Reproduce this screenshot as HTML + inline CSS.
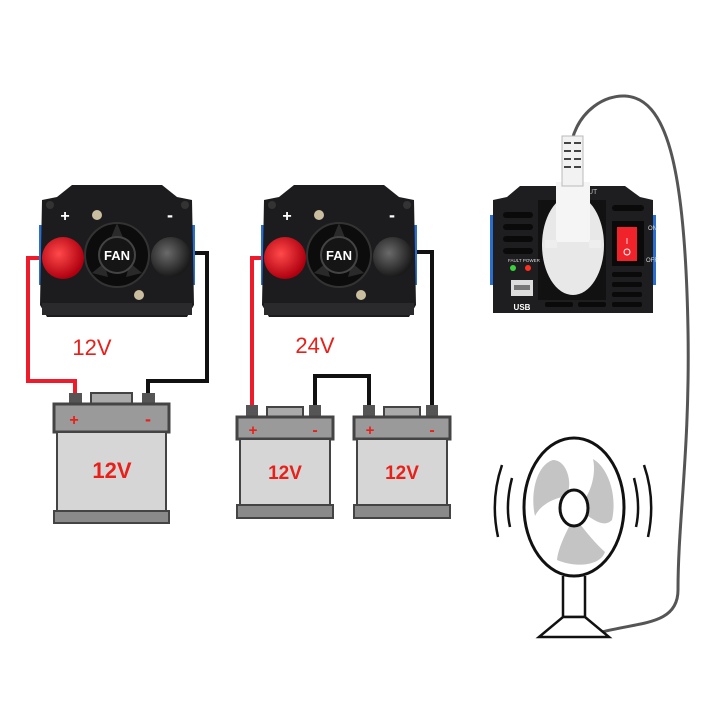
<!DOCTYPE html>
<html><head><meta charset="utf-8"><style>
html,body{margin:0;padding:0;background:#fff}
svg{display:block}
text{font-family:"Liberation Sans",sans-serif}
</style></head><body>
<svg width="720" height="720" viewBox="0 0 720 720" xmlns="http://www.w3.org/2000/svg">
<defs>
<radialGradient id="rk" cx="0.4" cy="0.4" r="0.6"><stop offset="0" stop-color="#ff4a4a"/><stop offset="1" stop-color="#b00010"/></radialGradient>
<radialGradient id="bk" cx="0.4" cy="0.4" r="0.6"><stop offset="0" stop-color="#6a6a6a"/><stop offset="1" stop-color="#1a1a1a"/></radialGradient>
<g id="inv">
  <rect x="-3" y="40" width="6" height="60" fill="#2a6fd0"/>
  <rect x="147" y="40" width="6" height="60" fill="#2a6fd0"/>
  <path d="M30,0 L120,0 L135,12 L150,15 L152,120 L145,132 L5,132 L-2,120 L0,15 L15,12 Z" fill="#1c1c1e"/>
  <rect x="0" y="118" width="150" height="12" fill="#2a2a2c"/>
  <circle cx="75" cy="70" r="32" fill="#0c0c0c" stroke="#333" stroke-width="2"/>
  <path d="M75,38 L82,55 L68,55Z M50,88 L62,78 L66,92Z M100,88 L88,78 L84,92Z" fill="#2a2a2a"/>
  <circle cx="75" cy="70" r="18" fill="#151515" stroke="#444" stroke-width="2"/>
  <text x="75" y="75" font-size="13" font-weight="bold" fill="#fff" text-anchor="middle">FAN</text>
  <circle cx="55" cy="30" r="5" fill="#c9bfa0"/>
  <circle cx="97" cy="110" r="5" fill="#c9bfa0"/>
  <text x="23" y="36" font-size="16" font-weight="bold" fill="#fff" text-anchor="middle">+</text>
  <text x="128" y="36" font-size="18" font-weight="bold" fill="#fff" text-anchor="middle">-</text>
  <circle cx="21" cy="73" r="21" fill="url(#rk)"/>
  <circle cx="129" cy="72" r="20" fill="url(#bk)"/>
  <circle cx="8" cy="20" r="4" fill="#333"/><circle cx="143" cy="20" r="4" fill="#333"/>
</g>
</defs>

<polyline points="44,258 28,258 28,381 75,381 75,396" fill="none" stroke="#ef1a2a" stroke-width="4"/>
<polyline points="188,253 207,253 207,381 148,381 148,396" fill="none" stroke="#111" stroke-width="4"/>
<use href="#inv" x="42" y="185"/>
<text x="92" y="355" font-size="22" fill="#e8201a" text-anchor="middle">12V</text>

<g>
  <rect x="69" y="393" width="13" height="12" fill="#555"/><rect x="142" y="393" width="13" height="12" fill="#555"/>
  <rect x="91" y="393" width="41" height="12" fill="#aaa" stroke="#444" stroke-width="2"/>
  <rect x="54" y="404" width="115" height="28" fill="#9a9a9a" stroke="#444" stroke-width="3"/>
  <text x="74" y="425" font-size="16" font-weight="bold" fill="#e8201a" text-anchor="middle">+</text>
  <text x="148" y="425" font-size="18" font-weight="bold" fill="#e8201a" text-anchor="middle">-</text>
  <rect x="57" y="432" width="109" height="79" fill="#d6d6d6" stroke="#444" stroke-width="2"/>
  <rect x="54" y="511" width="115" height="12" fill="#8a8a8a" stroke="#444" stroke-width="2"/>
  <text x="112" y="478" font-size="22" font-weight="bold" fill="#e8201a" text-anchor="middle">12V</text>
</g>

<polyline points="266,258 252,258 252,406" fill="none" stroke="#ef1a2a" stroke-width="4"/>
<polyline points="410,252 432,252 432,406" fill="none" stroke="#111" stroke-width="4"/>
<polyline points="315,406 315,376 369,376 369,406" fill="none" stroke="#111" stroke-width="4"/>
<use href="#inv" x="264" y="185"/>
<text x="315" y="353" font-size="22" fill="#e8201a" text-anchor="middle">24V</text>

<g id="b2">
  <rect x="246" y="405" width="12" height="12" fill="#555"/><rect x="309" y="405" width="12" height="12" fill="#555"/>
  <rect x="267" y="407" width="36" height="10" fill="#aaa" stroke="#444" stroke-width="2"/>
  <rect x="237" y="417" width="96" height="22" fill="#9a9a9a" stroke="#444" stroke-width="3"/>
  <text x="253" y="435" font-size="15" font-weight="bold" fill="#e8201a" text-anchor="middle">+</text>
  <text x="315" y="435" font-size="16" font-weight="bold" fill="#e8201a" text-anchor="middle">-</text>
  <rect x="240" y="439" width="90" height="66" fill="#d6d6d6" stroke="#444" stroke-width="2"/>
  <rect x="237" y="505" width="96" height="13" fill="#8a8a8a" stroke="#444" stroke-width="2"/>
  <text x="285" y="479" font-size="19" font-weight="bold" fill="#e8201a" text-anchor="middle">12V</text>
</g>
<use href="#b2" x="117" y="0"/>

<path d="M572,140 C580,110 605,95 625,96 C665,98 685,160 688,330 C690,450 678,520 678,590 C678,625 640,622 602,632" fill="none" stroke="#555" stroke-width="3"/>

<g>
  <rect x="490" y="215" width="5" height="70" fill="#2a6fd0"/><rect x="651" y="215" width="5" height="70" fill="#2a6fd0"/>
  <path d="M520,186 L625,186 L640,197 L653,200 L653,313 L493,313 L493,200 L507,197 Z" fill="#1e1e20"/>
  <g fill="#0a0a0a">
    <rect x="503" y="212" width="30" height="6" rx="3"/><rect x="503" y="224" width="30" height="6" rx="3"/>
    <rect x="503" y="236" width="30" height="6" rx="3"/><rect x="503" y="248" width="30" height="6" rx="3"/>
    <rect x="612" y="205" width="32" height="6" rx="3"/>
    <rect x="612" y="272" width="30" height="5" rx="2"/><rect x="612" y="282" width="30" height="5" rx="2"/><rect x="612" y="292" width="30" height="5" rx="2"/>
    <rect x="545" y="302" width="28" height="5" rx="2"/><rect x="578" y="302" width="28" height="5" rx="2"/><rect x="612" y="302" width="30" height="5" rx="2"/>
  </g>
  <rect x="538" y="200" width="68" height="100" fill="#111"/>
  <rect x="612" y="221" width="32" height="45" fill="#0a0a0a"/>
  <rect x="617" y="227" width="20" height="34" fill="#f0222a"/>
  <text x="627" y="244" font-size="8" fill="#fff" text-anchor="middle">I</text>
  <circle cx="627" cy="252" r="3" fill="none" stroke="#fff" stroke-width="1"/>
  <text x="648" y="230" font-size="6" fill="#ddd">ON</text>
  <text x="646" y="262" font-size="6" fill="#ddd">OFF</text>
  <text x="508" y="262" font-size="4.5" fill="#ddd">FAULT POWER</text>
  <circle cx="513" cy="268" r="3" fill="#3bd13b"/><circle cx="528" cy="268" r="3" fill="#ff3020"/>
  <rect x="511" y="280" width="22" height="16" fill="#ddd"/><rect x="514" y="285" width="16" height="5" fill="#777"/>
  <text x="522" y="310" font-size="8" font-weight="bold" fill="#fff" text-anchor="middle">USB</text>
  <text x="588" y="194" font-size="7" fill="#bbb">UT</text>
  <ellipse cx="573" cy="245" rx="31" ry="50" fill="#e8e8e8"/>
  <rect x="556" y="182" width="34" height="60" fill="#f5f5f5"/>
  <rect x="545" y="240" width="12" height="8" fill="#eee"/><rect x="589" y="240" width="12" height="8" fill="#eee"/>
  <rect x="562" y="136" width="21" height="50" fill="#f2f2f2" stroke="#bbb" stroke-width="1"/>
  <g fill="#444"><rect x="564" y="142" width="7" height="2"/><rect x="574" y="142" width="7" height="2"/>
  <rect x="564" y="150" width="7" height="2"/><rect x="574" y="150" width="7" height="2"/>
  <rect x="564" y="158" width="7" height="2"/><rect x="574" y="158" width="7" height="2"/>
  <rect x="564" y="166" width="7" height="2"/><rect x="574" y="166" width="7" height="2"/></g>
</g>

<g fill="none" stroke="#111" stroke-width="2.5">
  <path d="M502,465 Q490,500 498,537"/><path d="M512,478 Q505,505 510,527"/>
  <path d="M644,465 Q656,500 648,537"/><path d="M634,478 Q641,505 636,527"/>
</g>
<g fill="#c4c4c4">
  <path d="M562,497 C550,500 540,506 535,516 C530,495 536,465 553,460 C566,460 572,480 568,492 Z"/>
  <path d="M584,500 C592,490 596,472 593,459 C606,466 618,492 612,520 C604,528 594,520 585,514 Z"/>
  <path d="M570,525 C564,536 558,550 557,560 C576,568 600,566 605,552 C596,544 586,532 580,524 Z"/>
</g>
<ellipse cx="574" cy="507" rx="50" ry="69" fill="none" stroke="#111" stroke-width="3"/>
<ellipse cx="574" cy="508" rx="14" ry="18" fill="#fff" stroke="#111" stroke-width="3"/>
<path d="M563,576 L563,617 L585,617 L585,576" fill="none" stroke="#111" stroke-width="2.5"/>
<path d="M563,617 L585,617 L609,637 L539,637 Z" fill="#fff" stroke="#111" stroke-width="2.5"/>
</svg>
</body></html>
